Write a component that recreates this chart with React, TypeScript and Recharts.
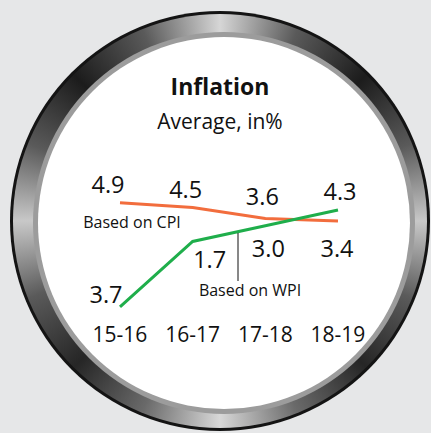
import { LineChart, Line, XAxis, YAxis, LabelList } from "recharts";

const years = ["15-16", "16-17", "17-18", "18-19"];
const cpi = [4.9, 4.5, 3.6, 3.4];
const wpi = [-3.7, 1.7, 3.0, 4.3];

const data = years.map((year, i) => ({ year, cpi: cpi[i], wpi: wpi[i] }));

// label offsets from each point [dx, dy]
const cpiLabelPos = [
  [-12, -10],
  [-7, -10],
  [-3, -13],
  [-1, 36],
];
const wpiLabelPos = [
  [-14, -4],
  [17, 26],
  [3, 31],
  [2, -10],
];

const FONT = "'Open Sans', 'Noto Sans', sans-serif";
const INK = "#111111";

const makeLabel = (pos: number[][]) => (props: any) => {
  const { x, y, value, index } = props;
  const [dx, dy] = pos[index];
  return (
    <text
      x={x + dx}
      y={y + dy}
      textAnchor="middle"
      fontSize={23.5}
      fontFamily={FONT}
      fill={INK}
    >
      {/* source prints the magnitude only */}
      {Math.abs(value).toFixed(1)}
    </text>
  );
};

const ring =
  "conic-gradient(from 0deg, #d6d6d6 0deg, #5a5a5a 22deg, #1c1c1c 45deg, #5a5a5a 68deg, #c8c8c8 90deg, #5a5a5a 112deg, #262626 135deg, #6a6a6a 158deg, #d8d8d8 180deg, #6a6a6a 202deg, #262626 225deg, #5a5a5a 248deg, #c8c8c8 270deg, #5a5a5a 292deg, #1c1c1c 315deg, #5a5a5a 338deg, #d6d6d6 360deg)";

export default function App() {
  return (
    <div
      style={{
        position: "absolute",
        left: 0,
        top: 0,
        width: 431,
        height: 433,
        overflow: "hidden",
        background: "#e6e7e8",
      }}
    >
      <div
        style={{
          position: "absolute",
          left: 10,
          top: 11,
          width: 420,
          height: 420,
          borderRadius: "50%",
          background: "#141414",
        }}
      />
      <div
        style={{
          position: "absolute",
          left: 13,
          top: 14,
          width: 414,
          height: 414,
          borderRadius: "50%",
          background: ring,
        }}
      />
      <div
        style={{
          position: "absolute",
          left: 33,
          top: 32,
          width: 382,
          height: 382,
          borderRadius: "50%",
          background: "#9c9c9c",
        }}
      />
      <div
        style={{
          position: "absolute",
          left: 38,
          top: 37,
          width: 372,
          height: 372,
          borderRadius: "50%",
          background: "#ffffff",
        }}
      />
      <div style={{ position: "absolute", left: 0, top: 0 }}>
        <LineChart
          width={431}
          height={433}
          data={data}
          margin={{ top: 201.5, right: 93, bottom: 82.4, left: 120 }}
        >
          <XAxis
            dataKey="year"
            axisLine={false}
            tickLine={false}
            interval={0}
            height={40}
            tickMargin={10}
            tick={{ fontSize: 21, fill: INK, fontFamily: FONT }}
          />
          <YAxis hide domain={[-4, 5]} />
          <Line
            type="linear"
            dataKey="cpi"
            stroke="#f26d3d"
            strokeWidth={3}
            dot={false}
            isAnimationActive={false}
          >
            <LabelList dataKey="cpi" content={makeLabel(cpiLabelPos)} />
          </Line>
          <Line
            type="linear"
            dataKey="wpi"
            stroke="#1fae4b"
            strokeWidth={3}
            dot={false}
            isAnimationActive={false}
          >
            <LabelList dataKey="wpi" content={makeLabel(wpiLabelPos)} />
          </Line>
        </LineChart>
      </div>
      <svg
        width={431}
        height={433}
        style={{ position: "absolute", left: 0, top: 0, pointerEvents: "none" }}
      >
        <text
          x={220}
          y={95}
          textAnchor="middle"
          fontSize={23}
          fontWeight="bold"
          fontFamily={FONT}
          fill={INK}
        >
          Inflation
        </text>
        <text
          x={220}
          y={129}
          textAnchor="middle"
          fontSize={21}
          fontFamily={FONT}
          fill={INK}
        >
          Average, in%
        </text>
        <text
          x={132}
          y={228}
          textAnchor="middle"
          fontSize={16}
          fontFamily={FONT}
          fill={INK}
        >
          Based on CPI
        </text>
        <line x1={238} y1={233} x2={238} y2={281} stroke={INK} strokeWidth={1} />
        <text
          x={250}
          y={296}
          textAnchor="middle"
          fontSize={16}
          fontFamily={FONT}
          fill={INK}
        >
          Based on WPI
        </text>
      </svg>
    </div>
  );
}
